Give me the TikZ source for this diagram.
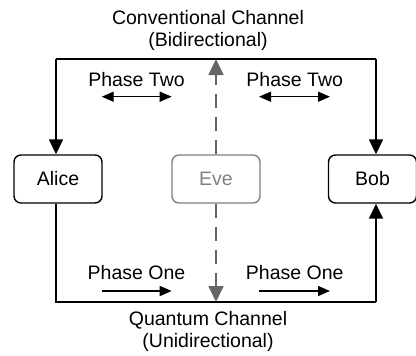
\documentclass[tikz,border=0pt]{standalone}
\usepackage{fontspec}
\setmainfont{Liberation Sans}
\usetikzlibrary{arrows.meta}
\definecolor{evegray}{HTML}{808080}
\definecolor{dashgray}{HTML}{666666}
\tikzset{
  party/.style={draw, line width=1.4pt, rounded corners=7pt, minimum width=88pt, minimum height=48pt, inner sep=0pt},
  lbl/.style={inner sep=0pt, font=\fontsize{19.5}{22}\selectfont},
  wire/.style={line width=1.6pt},
  bigtip/.style={-{Triangle[length=15pt,width=14pt]}},
  smallline/.style={line width=1.4pt},
  spy/.style={dashgray, line width=1.8pt, dash pattern=on 14pt off 9pt, -{Triangle[length=16pt,width=15pt]}}
}
\begin{document}
\begin{tikzpicture}[x=1pt,y=-1pt]
\useasboundingbox (0,0) rectangle (416,356);
% parties
\node[party, lbl] (alice) at (58,179) {Alice};
\node[party, lbl, draw=evegray, text=evegray] (eve) at (216,179) {Eve};
\node[party, lbl] (bob) at (372.5,179) {Bob};
% channel corners
\coordinate (tl) at (56,59);
\coordinate (tr) at (376,59);
\coordinate (bl) at (56,302);
\coordinate (br) at (376,302);
\coordinate (tm) at (216,59);
\coordinate (bm) at (216,302);
% conventional channel
\draw[wire] (tl) -- (tr);
\draw[wire, bigtip] (tl) -- (tl |- alice.north);
\draw[wire, bigtip] (tr) -- (tr |- bob.north);
% quantum channel
\draw[wire] (bl |- alice.south) -- (bl) -- (br);
\draw[wire, bigtip] (br) -- (br |- bob.south);
% eve
\draw[spy] (eve.north) -- (tm);
\draw[spy] (eve.south) -- (bm);
% labels
\node[lbl, align=center] (conv) at (208,30) {Conventional Channel\\(Bidirectional)};
\node[lbl, align=center] (quan) at (208,331) {Quantum Channel\\(Unidirectional)};
\node[lbl, anchor=base] (p2l) at (136.5,86) {Phase Two};
\node[lbl, anchor=base] (p2r) at (294.7,86) {Phase Two};
\node[lbl, anchor=base] (p1l) at (136.5,279) {Phase One};
\node[lbl, anchor=base] (p1r) at (294.7,279) {Phase One};
% phase arrows
\coordinate (a2la) at (101.7,96.7);
\coordinate (a2lb) at (171.7,96.7);
\coordinate (a2ra) at (259,96.7);
\coordinate (a2rb) at (330,96.7);
\coordinate (a1la) at (101.7,291);
\coordinate (a1lb) at (171.7,291);
\coordinate (a1ra) at (259,291);
\coordinate (a1rb) at (330,291);
\draw[smallline, {Triangle[length=12pt,width=10pt]}-{Triangle[length=12pt,width=10pt]}] (a2la) -- (a2lb);
\draw[smallline, {Triangle[length=12pt,width=10pt]}-{Triangle[length=12pt,width=10pt]}] (a2ra) -- (a2rb);
\draw[smallline, -{Triangle[length=12pt,width=10pt]}] (a1la) -- (a1lb);
\draw[smallline, -{Triangle[length=12pt,width=10pt]}] (a1ra) -- (a1rb);
\end{tikzpicture}
\end{document}
